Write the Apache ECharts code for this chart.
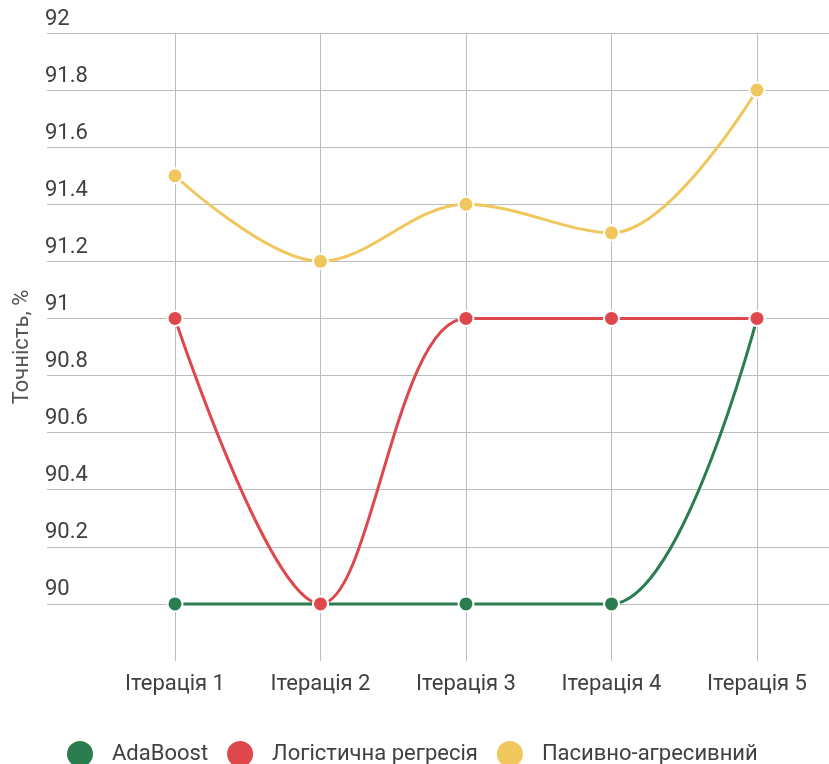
<!DOCTYPE html>
<html>
<head>
<meta charset="utf-8">
<script src="https://cdn.jsdelivr.net/npm/echarts@6/dist/echarts.min.js"></script>
<style>
  html, body { margin: 0; padding: 0; background: #fff; }
  #chart { width: 829px; height: 764px; }
</style>
</head>
<body>
<div id="chart"></div>
<script>
// Iterations on the x axis
var iterations = ['Ітерація 1', 'Ітерація 2', 'Ітерація 3', 'Ітерація 4', 'Ітерація 5'];

// Accuracy, % per model
var adaBoost = [90, 90, 90, 90, 91];
var logisticRegression = [91, 90, 91, 91, 91];
var passiveAggressive = [91.5, 91.2, 91.4, 91.3, 91.8];

var seriesNames = ['AdaBoost', 'Логістична регресія', 'Пасивно-агресивний'];
var seriesColors = ['#2a7d4f', '#de474b', '#efc75c'];

var yMin = 89.8, yMax = 92, yStep = 0.2;

var font = 'Roboto, "Noto Sans", sans-serif';
var chart = echarts.init(document.getElementById('chart'), null, { renderer: 'canvas' });

function lineSeries(name, values, color) {
  return {
    name: name,
    type: 'line',
    xAxisIndex: 0,
    yAxisIndex: 0,
    data: values,
    smooth: 0.35,
    clip: false,
    symbol: 'circle',
    symbolSize: 15,
    lineStyle: { color: color, width: 3 },
    itemStyle: { color: color, borderColor: '#fff', borderWidth: 2 },
    emphasis: { disabled: true }
  };
}

chart.setOption({
  animation: false,
  color: seriesColors,
  textStyle: { fontFamily: font },
  grid: [
    { left: 175, right: 72, top: 33, bottom: 103 },
    { left: 47, right: 0, top: 33, bottom: 103 }
  ],
  xAxis: [
    {
      type: 'category',
      gridIndex: 0,
      data: iterations,
      boundaryGap: false,
      axisLine: { show: false },
      axisTick: { show: false },
      axisLabel: { color: '#404040', fontSize: 22, margin: 12, fontFamily: font },
      splitLine: { show: true, lineStyle: { color: '#bdbdbd', width: 1 } }
    },
    { type: 'value', gridIndex: 1, show: false }
  ],
  yAxis: [
    { type: 'value', gridIndex: 0, min: yMin, max: yMax, interval: yStep, show: false },
    {
      type: 'value',
      gridIndex: 1,
      min: yMin,
      max: yMax,
      interval: yStep,
      axisLine: { show: false },
      axisTick: { show: false },
      axisLabel: {
        inside: true,
        margin: -2,
        align: 'left',
        verticalAlign: 'bottom',
        padding: [0, 0, 3, 0],
        color: '#404040',
        fontSize: 22,
        fontFamily: font,
        showMinLabel: false,
        formatter: function (v) { return String(Math.round(v * 10) / 10); }
      },
      splitLine: {
        show: true,
        lineStyle: { color: '#bdbdbd', width: 1 },
        showMinLine: false
      },
      name: 'Точність, %',
      nameLocation: 'middle',
      nameRotate: 90,
      nameGap: 14,
      nameTextStyle: { color: '#555', fontSize: 22, fontFamily: font }
    }
  ],
  legend: {
    top: 739,
    left: 65,
    padding: 0,
    icon: 'circle',
    itemWidth: 28,
    itemHeight: 28,
    itemGap: 17,
    data: seriesNames,
    textStyle: { color: '#404040', fontSize: 22, fontFamily: font, padding: [0, 0, 0, 13] }
  },
  series: [
    lineSeries(seriesNames[0], adaBoost, seriesColors[0]),
    lineSeries(seriesNames[1], logisticRegression, seriesColors[1]),
    lineSeries(seriesNames[2], passiveAggressive, seriesColors[2])
  ]
});
</script>
</body>
</html>
